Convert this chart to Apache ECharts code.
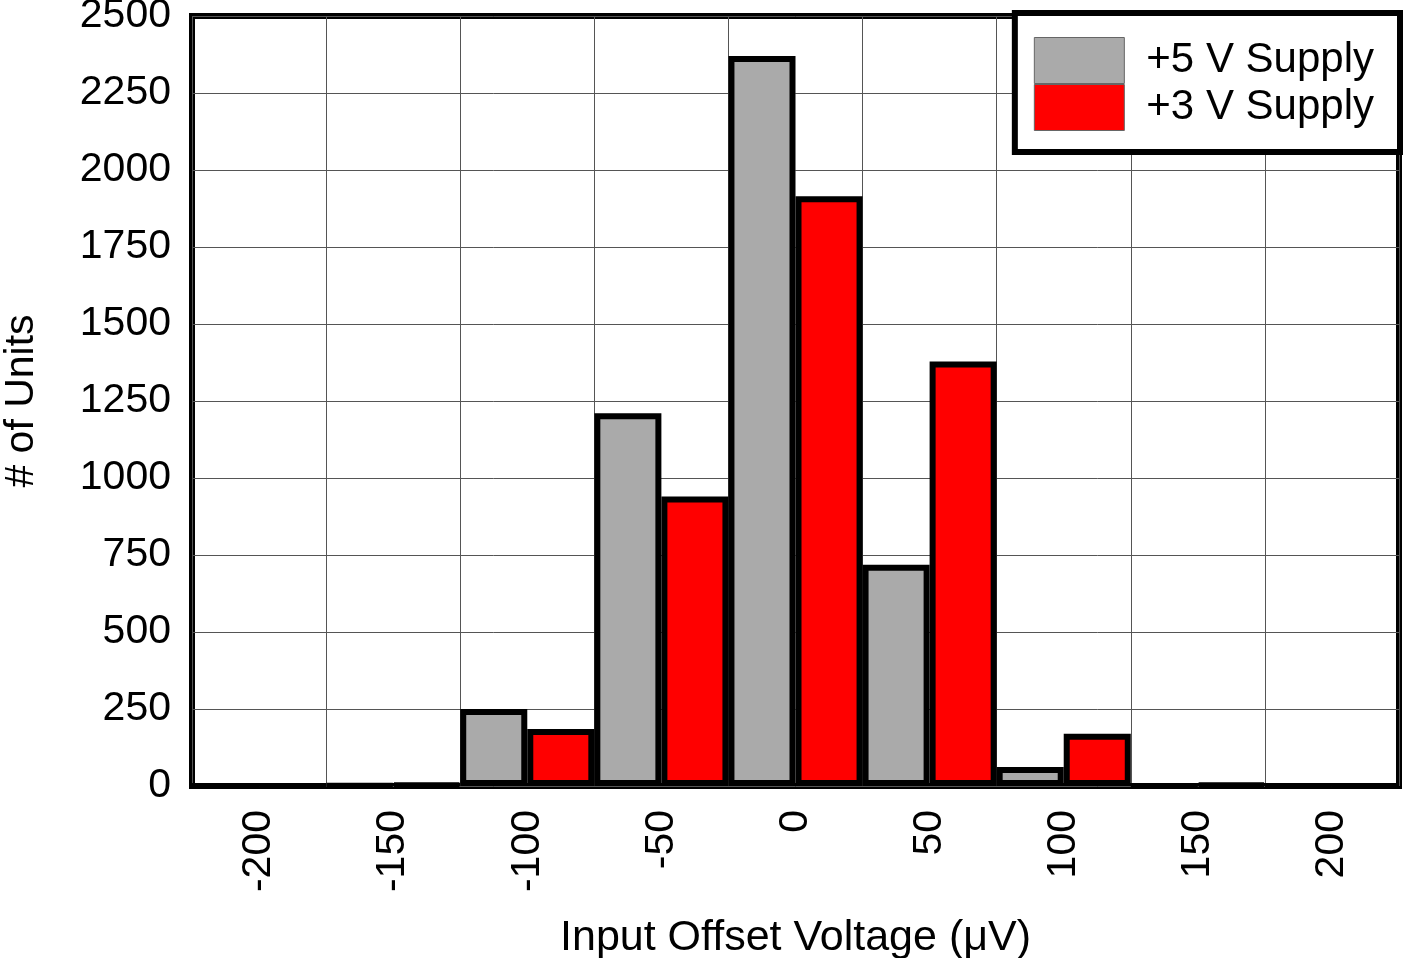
<!DOCTYPE html>
<html>
<head>
<meta charset="utf-8">
<script src="https://cdn.jsdelivr.net/npm/echarts@6/dist/echarts.min.js"></script>
<style>
  html, body { margin: 0; padding: 0; background: #fff; }
  #chart { width: 1404px; height: 958px; }
</style>
</head>
<body>
<div id="chart"></div>
<script>
// histogram bins (uV), gray = +5 V, red = +3 V
var categories = ['-200', '-150', '-100', '-50', '0', '50', '100', '150', '200'];
var supply5 = [0, 2, 250, 1210, 2370, 718, 62, 0, 0];
var supply3 = [0, 5, 185, 940, 1915, 1378, 170, 5, 0];

var font = 'Liberation Sans, Arial, sans-serif';

var myChart = echarts.init(document.getElementById('chart'));
myChart.setOption({
    animation: false,
    textStyle: { fontFamily: font },
    grid: {
        left: 192,
        right: 5,
        top: 16,
        bottom: 172,
        outerBoundsMode: 'none',
        containLabel: false,
        show: true,
        borderColor: '#000',
        borderWidth: 6,
        backgroundColor: 'transparent'
    },
    legend: {
        orient: 'vertical',
        right: 4,
        top: 13,
        itemWidth: 90,
        itemHeight: 46,
        itemGap: 0,
        icon: 'rect',
        padding: [24, 26, 21, 19],
        backgroundColor: '#fff',
        borderColor: '#000',
        borderWidth: 6,
        itemStyle: { borderWidth: 1, borderColor: '#666' },
        textStyle: { fontSize: 42, color: '#000', fontFamily: font, padding: [0, 0, 0, 17] },
        data: ['+5 V Supply', '+3 V Supply']
    },
    xAxis: {
        type: 'category',
        data: categories,
        name: 'Input Offset Voltage (\u03bcV)',
        nameLocation: 'middle',
        nameGap: 131,
        nameTextStyle: { fontSize: 43, color: '#000', fontFamily: font },
        axisLine: { show: false },
        axisTick: { show: false },
        axisLabel: { rotate: 90, margin: 24, fontSize: 41, color: '#000', fontFamily: font, interval: 0 },
        splitLine: { show: true, interval: 0, lineStyle: { color: '#555', width: 1 } }
    },
    yAxis: {
        type: 'value',
        min: 0,
        max: 2500,
        interval: 250,
        name: '# of Units',
        nameLocation: 'middle',
        nameGap: 150,
        nameTextStyle: { fontSize: 41, color: '#000', fontFamily: font },
        axisLine: { show: false },
        axisTick: { show: false },
        axisLabel: {
            margin: 21, fontSize: 41, color: '#000', fontFamily: font,
            formatter: function (v) { return String(v); }
        },
        splitLine: { show: true, lineStyle: { color: '#555', width: 1 } }
    },
    series: [
        {
            name: '+5 V Supply',
            type: 'bar',
            data: supply5,
            barGap: '0%',
            barCategoryGap: '0%',
            itemStyle: { color: '#aaaaaa', borderColor: '#000', borderWidth: 6 }
        },
        {
            name: '+3 V Supply',
            type: 'bar',
            data: supply3,
            barGap: '0%',
            barCategoryGap: '0%',
            itemStyle: { color: '#ff0000', borderColor: '#000', borderWidth: 6 }
        }
    ]
});
</script>
</body>
</html>
